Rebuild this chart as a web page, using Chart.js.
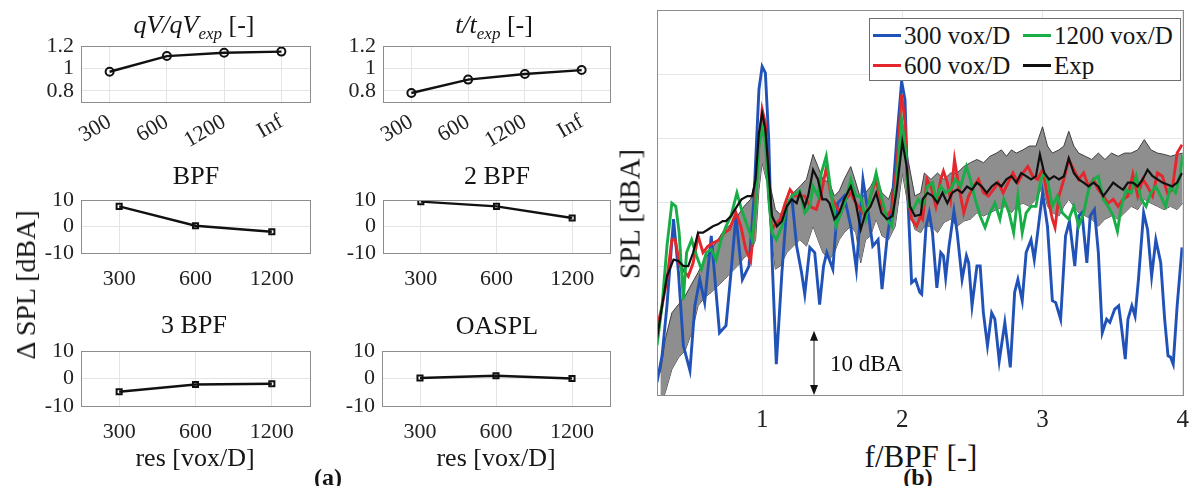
<!DOCTYPE html>
<html>
<head>
<meta charset="utf-8">
<script src="https://cdn.jsdelivr.net/npm/chart.js@4.4.1/dist/chart.umd.min.js"></script>
<style>
  body { margin: 0; background: #fff; width: 1199px; height: 486px; position: relative; overflow: hidden;
         font-family: "Liberation Serif", "Times New Roman", serif; color: #151515; }
  canvas { position: absolute; }
  .lbl { position: absolute; white-space: nowrap; line-height: 1; transform: translate(-50%, -50%); }
  .rot { transform: translate(-50%, -50%) rotate(-90deg); }
  .sub { font-size: 17px; position: relative; top: 6px; }
  #legend { position: absolute; left: 869px; top: 18px; width: 310px; height: 61px; border: 1px solid #6f6f6f; background: #fff; }
  .item { position: absolute; font-size: 25px; line-height: 1; white-space: nowrap; }
  .swatch { position: absolute; height: 2.5px; width: 28px; }
</style>
</head>
<body>
<canvas id="cQv"></canvas>
<canvas id="cT"></canvas>
<canvas id="cBpf1"></canvas>
<canvas id="cBpf2"></canvas>
<canvas id="cBpf3"></canvas>
<canvas id="cOaspl"></canvas>
<canvas id="cSpec"></canvas>

<div class="lbl" style="left:194px;top:25px;font-size:26px"><i>qV/qV</i><i class="sub">exp</i> [-]</div>
<div class="lbl" style="left:494px;top:25px;font-size:26px"><i>t/t</i><i class="sub">exp</i> [-]</div>
<div class="lbl" style="left:196px;top:176px;font-size:26px">BPF</div>
<div class="lbl" style="left:497px;top:176px;font-size:26px">2 BPF</div>
<div class="lbl" style="left:194px;top:325px;font-size:26px">3 BPF</div>
<div class="lbl" style="left:497px;top:326px;font-size:26px">OASPL</div>
<div class="lbl" style="left:195px;top:458px;font-size:26px">res [vox/D]</div>
<div class="lbl" style="left:496px;top:458px;font-size:26px">res [vox/D]</div>
<div class="lbl rot" style="left:26px;top:285px;font-size:28px">Δ SPL [dBA]</div>
<div class="lbl" style="left:328px;top:477px;font-size:24px;font-weight:bold">(a)</div>
<div class="lbl rot" style="left:630px;top:214px;font-size:29px">SPL [dBA]</div>
<div class="lbl" style="left:921px;top:456px;font-size:31px">f/BPF [-]</div>
<div class="lbl" style="left:918px;top:477px;font-size:24px;font-weight:bold">(b)</div>
<div id="legend"></div>

<script>
// ---- data: panel (a) ----
const resCats4 = ['300', '600', '1200', 'Inf'];
const resCats3 = ['300', '600', '1200'];
const qvRatio = [0.97, 1.11, 1.14, 1.15];
const tRatio = [0.78, 0.90, 0.95, 0.985];
const dSplBpf1 = [7.6, 0.3, -2.0];
const dSplBpf2 = [9.4, 7.6, 3.2];
const dSplBpf3 = [-4.8, -2.2, -1.9];
const dSplOaspl = [0.2, 1.0, 0.0];
const ratioTicks = [0.8, 1, 1.2];
const deltaTicks = [-10, 0, 10];

// ---- data: panel (b), [f/BPF, SPL] ----
const freqTicks = [1, 2, 3, 4];
const splGrid = [0, 10, 20, 30, 40, 50, 60];

const spec300 = [
  [0.25,2.0],[0.286,6.1],[0.321,13.9],[0.368,27.4],[0.403,19.1],[0.438,7.7],[0.485,3.8],[0.52,13.9],[0.555,18.0],[0.59,14.4],
  [0.637,24.8],[0.696,9.7],[0.742,10.8],[0.778,19.1],[0.813,27.9],[0.859,18.0],[0.906,20.1],[0.941,30.5],[0.977,47.6],[1.0,51.2],
  [1.023,50.2],[1.047,39.8],[1.07,21.7],[1.101,4.8],[1.141,19.1],[1.176,29.4],[1.211,31.0],[1.246,23.2],[1.281,19.1],[1.304,15.7],
  [1.34,23.0],[1.375,22.2],[1.41,14.1],[1.438,20.1],[1.461,22.2],[1.504,19.6],[1.539,29.9],[1.585,31.0],[1.632,26.3],[1.672,19.6],
  [1.719,33.6],[1.756,28.4],[1.789,23.2],[1.827,24.2],[1.855,16.5],[1.89,24.2],[1.925,29.4],[1.96,39.8],[1.995,48.9],[2.019,46.0],
  [2.042,29.4],[2.066,17.5],[2.094,18.0],[2.124,16.0],
  [2.138,15.7],[2.169,26.3],[2.192,28.4],[2.215,25.3],[2.246,16.7],[2.274,22.2],[2.293,21.7],[2.309,18.3],[2.333,23.2],[2.368,28.7],
  [2.391,25.3],[2.426,18.0],[2.457,21.7],[2.473,20.6],[2.497,13.9],[2.532,20.1],[2.555,20.1],[2.578,12.8],[2.607,7.7],[2.637,12.8],
  [2.66,11.8],[2.691,5.3],[2.731,11.3],[2.77,4.3],[2.801,16.0],[2.824,18.0],[2.855,14.7],[2.883,22.2],[2.918,24.2],[2.941,21.1],
  [2.965,25.3],[3.0,31.5],[3.035,26.3],[3.07,14.7],[3.094,14.4],[3.129,11.8],[3.164,24.8],[3.192,27.1],[3.23,20.1],[3.258,27.9],
  [3.281,28.4],[3.316,20.6],[3.34,27.9],[3.37,28.9],[3.398,22.2],[3.426,9.7],[3.457,11.8],[3.48,11.3],[3.515,13.4],[3.543,13.9],
  [3.562,10.8],[3.59,5.6],[3.609,11.8],[3.637,13.9],[3.66,12.3],[3.684,18.0],[3.721,28.4],[3.749,25.8],[3.778,18.5],[3.808,24.2],
  [3.843,20.6],[3.871,11.8],[3.895,6.1],[3.913,5.9],[3.932,4.8],[3.96,13.9],[3.995,23.0]
];

const spec600 = [
  [0.25,10.3],[0.286,13.9],[0.321,18.0],[0.356,24.2],[0.379,24.2],[0.414,20.1],[0.45,19.1],[0.473,18.5],[0.508,20.6],[0.543,24.8],
  [0.578,22.2],[0.614,23.2],[0.649,23.7],[0.696,24.2],[0.731,25.3],[0.766,25.8],[0.813,28.4],[0.848,26.3],[0.883,22.7],[0.918,20.9],
  [0.941,26.3],[0.97,37.2],[1.0,44.5],[1.023,42.4],[1.047,32.0],[1.07,25.8],[1.094,26.6],[1.129,27.4],[1.164,29.9],[1.199,32.0],
  [1.234,31.0],[1.269,31.0],[1.304,31.0],[1.34,29.4],[1.386,28.9],[1.422,31.5],[1.457,35.4],[1.492,31.0],[1.527,29.4],[1.562,28.4],
  [1.597,30.5],[1.632,31.5],[1.668,29.9],[1.703,28.9],[1.738,27.9],[1.773,31.0],[1.813,33.6],[1.855,29.4],[1.89,27.9],[1.925,28.9],
  [1.96,35.6],[1.995,46.8],[2.019,42.4],[2.042,30.5],[2.066,27.4],[2.101,26.3],[2.131,27.9],
  [2.145,27.4],[2.176,33.6],[2.204,32.5],[2.239,29.4],[2.274,33.6],[2.293,34.9],[2.321,33.1],[2.344,30.5],[2.372,36.7],[2.403,32.5],
  [2.438,28.4],[2.473,31.0],[2.508,32.5],[2.543,33.6],[2.579,31.5],[2.614,31.0],[2.649,32.0],[2.684,33.1],[2.719,31.5],[2.754,33.1],
  [2.789,34.6],[2.824,33.1],[2.86,34.6],[2.895,35.6],[2.93,34.1],[2.965,33.6],[3.0,35.1],[3.035,31.0],[3.07,27.4],[3.089,26.1],
  [3.117,31.0],[3.152,33.6],[3.187,36.7],[3.223,35.1],[3.258,33.6],[3.293,34.6],[3.328,32.5],[3.363,33.6],[3.398,32.0],[3.433,31.0],
  [3.468,29.9],[3.504,30.5],[3.539,29.4],[3.574,30.5],[3.609,31.0],[3.644,34.4],[3.679,31.0],[3.714,33.6],[3.749,32.5],[3.785,31.0],
  [3.82,34.6],[3.855,34.1],[3.89,31.5],[3.925,32.0],[3.96,37.7],[3.995,39.0]
];

const spec1200 = [
  [0.25,7.7],[0.286,13.9],[0.321,23.2],[0.356,29.9],[0.384,29.4],[0.408,25.3],[0.438,14.9],[0.461,22.2],[0.497,24.2],[0.532,21.7],
  [0.567,19.6],[0.602,22.2],[0.637,22.7],[0.672,21.1],[0.707,24.2],[0.742,26.3],[0.778,27.9],[0.82,31.5],[0.853,28.9],[0.895,26.3],
  [0.93,24.2],[0.953,29.4],[0.977,38.8],[1.0,41.5],[1.023,39.5],[1.047,30.5],[1.07,25.3],[1.101,24.2],[1.141,26.3],[1.176,29.4],
  [1.211,31.0],[1.246,31.5],[1.269,31.8],[1.304,28.4],[1.34,29.4],[1.363,32.5],[1.398,31.0],[1.422,34.6],[1.457,37.2],[1.492,31.5],
  [1.527,26.3],[1.562,28.4],[1.597,30.5],[1.632,33.6],[1.668,31.0],[1.703,31.0],[1.738,27.4],[1.773,31.0],[1.813,34.6],[1.85,31.0],
  [1.89,27.4],[1.925,26.3],[1.96,33.6],[1.995,42.9],[2.023,38.2],[2.047,29.4],[2.077,28.9],[2.113,30.5],
  [2.145,29.4],[2.18,32.5],[2.216,33.1],[2.239,30.5],[2.274,32.5],[2.309,31.5],[2.344,32.0],[2.379,33.6],[2.415,32.5],[2.457,35.6],
  [2.485,33.6],[2.52,30.5],[2.555,27.9],[2.59,26.1],[2.625,28.4],[2.66,29.9],[2.696,27.4],[2.724,30.5],[2.761,28.4],[2.794,25.3],
  [2.824,31.0],[2.855,25.3],[2.883,28.4],[2.918,29.4],[2.953,29.4],[2.988,33.6],[3.012,34.6],[3.035,33.6],[3.07,29.4],[3.105,31.0],
  [3.141,28.4],[3.187,27.4],[3.223,29.4],[3.258,26.3],[3.293,28.4],[3.328,32.0],[3.363,33.6],[3.398,34.1],[3.433,30.5],[3.468,29.4],
  [3.504,27.9],[3.534,25.5],[3.562,29.4],[3.597,32.0],[3.632,31.5],[3.668,34.1],[3.703,30.5],[3.738,29.4],[3.773,31.5],[3.808,32.5],
  [3.843,31.0],[3.878,29.4],[3.913,32.5],[3.949,31.5],[3.984,34.6],[4.0,37.5]
];

const specExp = [
  [0.25,8.7],[0.286,13.9],[0.321,18.5],[0.368,21.1],[0.403,20.9],[0.438,20.1],[0.473,20.1],[0.508,22.2],[0.543,25.3],[0.578,25.3],
  [0.614,25.8],[0.649,26.3],[0.684,26.6],[0.719,27.1],[0.742,27.1],[0.778,27.9],[0.82,29.4],[0.853,30.5],[0.895,31.0],[0.93,31.0],
  [0.953,33.6],[0.977,40.8],[1.0,43.9],[1.023,41.4],[1.047,34.6],[1.07,27.9],[1.105,26.3],[1.141,27.1],[1.176,29.4],[1.211,30.5],
  [1.246,29.9],[1.269,31.5],[1.304,29.4],[1.328,31.0],[1.363,35.1],[1.398,33.6],[1.429,30.5],[1.457,30.5],[1.48,29.9],[1.515,27.4],
  [1.55,28.4],[1.585,30.5],[1.632,32.5],[1.668,29.9],[1.703,25.8],[1.738,28.4],[1.773,29.4],[1.813,31.5],[1.85,28.4],[1.89,27.4],
  [1.93,27.9],[1.96,32.0],[2.0,39.5],[2.031,35.6],[2.054,29.4],[2.089,27.9],[2.131,28.1],
  [2.145,30.5],[2.18,31.5],[2.216,31.0],[2.251,29.9],[2.286,31.5],[2.321,29.9],[2.356,31.5],[2.391,32.0],[2.426,31.5],[2.461,32.5],
  [2.497,32.0],[2.532,33.1],[2.567,32.5],[2.602,31.5],[2.637,32.5],[2.672,33.1],[2.707,32.5],[2.742,33.6],[2.778,34.1],[2.813,33.1],
  [2.848,34.6],[2.883,34.1],[2.918,33.6],[2.953,34.1],[2.981,37.5],[3.012,34.6],[3.047,33.6],[3.082,34.1],[3.117,33.6],[3.152,34.1],
  [3.187,36.9],[3.223,34.6],[3.258,33.6],[3.293,33.1],[3.328,32.5],[3.363,33.1],[3.398,32.5],[3.433,31.0],[3.468,32.0],[3.504,33.1],
  [3.539,32.5],[3.574,32.0],[3.609,33.1],[3.644,33.1],[3.679,32.5],[3.714,33.6],[3.749,35.1],[3.785,34.1],[3.82,33.6],[3.855,33.1],
  [3.89,32.8],[3.925,32.5],[3.96,33.1],[3.995,34.6]
];

// experimental uncertainty band: [f/BPF, lower, upper]
const specBand = [
  [0.274,-2,3.5],[0.309,0.4,8.7],[0.356,4.0,12.8],[0.403,5.8,14.1],[0.45,6.9,15.4],[0.497,9.7,17.3],[0.543,13.9,19.1],[0.59,15.2,21.1],[0.637,16.0,22.7],[0.684,17.0,24.2],
  [0.731,18.0,25.8],[0.778,19.1,26.6],[0.824,20.1,27.9],[0.871,21.4,29.4],[0.918,22.2,30.5],[0.953,24.2,33.6],[0.977,32.0,39.8],[1.0,36.2,43.7],[1.035,33.1,39.8],[1.059,26.3,32.5],
  [1.094,19.6,28.9],[1.129,20.1,28.1],[1.176,22.2,29.9],[1.222,23.2,31.5],[1.269,24.2,32.5],[1.316,23.2,33.6],[1.363,26.3,37.5],[1.398,24.2,35.6],[1.433,22.2,33.6],[1.48,21.1,33.1],
  [1.515,22.2,31.0],[1.55,24.2,31.8],[1.585,25.3,33.6],[1.632,26.3,35.6],[1.668,25.3,33.1],[1.703,20.6,30.5],[1.738,24.2,31.5],[1.773,24.8,32.5],[1.813,27.4,34.1],[1.855,24.8,31.5],
  [1.902,24.2,30.5],[1.949,26.3,33.6],[2.0,34.6,42.4],[2.042,29.4,36.5],[2.089,25.8,31.0],[2.131,25.3,31.5],
  [2.157,26.3,34.6],[2.204,26.3,33.6],[2.251,25.3,34.6],[2.297,26.9,33.6],[2.344,27.4,34.6],[2.391,26.3,34.6],[2.438,27.1,35.6],[2.485,27.4,36.2],[2.532,28.4,36.7],[2.579,27.9,36.2],
  [2.625,28.4,37.2],[2.672,28.9,37.7],[2.707,29.2,38.2],[2.742,29.4,37.2],[2.778,28.4,38.2],[2.813,29.4,37.7],[2.86,29.9,38.2],[2.906,29.4,38.8],[2.953,30.5,38.8],[3.0,32.5,41.8],
  [3.035,29.4,38.8],[3.07,28.4,37.7],[3.117,27.9,38.2],[3.152,29.4,38.8],[3.187,30.5,41.1],[3.223,29.4,38.8],[3.258,28.4,37.7],[3.305,27.9,37.2],[3.351,27.4,36.7],[3.398,26.3,37.7],
  [3.445,27.4,36.7],[3.492,27.9,37.7],[3.539,27.4,37.2],[3.586,28.4,37.7],[3.632,29.4,37.7],[3.679,28.9,38.2],[3.726,30.5,39.8],[3.773,29.9,38.2],[3.82,29.4,37.7],[3.867,28.9,37.5],
  [3.913,29.4,37.2],[3.96,28.9,37.5],[4.0,29.9,37.7]
];

// 10 dBA scale arrow
const arrowFreq = 1.37;
const arrowSpan = [0, 10];
const arrowText = '10 dBA';

// ---- drawing ----
const FONT = '"Liberation Serif", "Times New Roman", serif';

function placeCanvas(id, left, top, w, h) {
  const c = document.getElementById(id);
  c.width = w; c.height = h;
  c.style.left = left + 'px'; c.style.top = top + 'px';
  return c;
}

// MATLAB-style box around the axes
const frame = {
  id: 'frame',
  afterDatasetsDraw(chart, args, opts) {
    const a = chart.chartArea, ctx = chart.ctx;
    ctx.save();
    ctx.strokeStyle = opts.color || '#8a8a8a';
    ctx.lineWidth = 1;
    ctx.strokeRect(Math.round(a.left) + 0.5, Math.round(a.top) + 0.5,
                   Math.round(a.right - a.left), Math.round(a.bottom - a.top));
    ctx.restore();
  }
};

function smallChart(id, box, cats, vals, yTicks, yRange, marker, rotated) {
  const yW = 62, padT = 14, padR = 4, xH = rotated ? 52 : 42;
  const left = box.l - yW, top = box.t - padT;
  const cv = placeCanvas(id, left, top, box.r + padR - left, box.b - top + xH);
  return new Chart(cv, {
    type: 'line',
    data: {
      labels: cats,
      datasets: [{
        data: vals, borderColor: '#111', borderWidth: 2.4, tension: 0,
        pointStyle: marker, pointRadius: marker === 'circle' ? 4 : 3.6,
        pointBorderWidth: 2, pointBorderColor: '#111', pointBackgroundColor: 'rgba(255,255,255,0)'
      }]
    },
    options: {
      responsive: false, animation: false, events: [],
      layout: { padding: { top: padT, right: padR, left: 0, bottom: 0 } },
      plugins: { legend: { display: false }, tooltip: { enabled: false }, frame: { color: '#8d8d8d' } },
      scales: {
        x: {
          offset: true,
          grid: { offset: false, color: '#e4e4e4', drawTicks: false },
          border: { display: false },
          ticks: { color: '#222', font: { family: FONT, size: 22 }, padding: rotated ? 7 : 13,
                   minRotation: rotated ? 30 : 0, maxRotation: rotated ? 30 : 0, autoSkip: false },
          afterFit: s => { s.height = xH; }
        },
        y: {
          min: yRange[0], max: yRange[1],
          grid: { color: '#e4e4e4', drawTicks: false },
          border: { display: false },
          afterBuildTicks: s => { s.ticks = yTicks.map(v => ({ value: v })); },
          ticks: { color: '#222', font: { family: FONT, size: 22, lineHeight: 1 }, padding: 7, autoSkip: false,
                   callback: v => String(v) },
          afterFit: s => { s.width = yW; }
        }
      }
    },
    plugins: [frame]
  });
}

smallChart('cQv',    { l: 81,  t: 42,  r: 312, b: 102 }, resCats4, qvRatio,   ratioTicks, [0.7, 1.2], 'circle', true);
smallChart('cT',     { l: 383, t: 42,  r: 612, b: 102 }, resCats4, tRatio,    ratioTicks, [0.7, 1.2], 'circle', true);
smallChart('cBpf1',  { l: 81,  t: 196, r: 312, b: 253 }, resCats3, dSplBpf1,  deltaTicks, [-10, 10], 'rect', false);
smallChart('cBpf2',  { l: 383, t: 196, r: 612, b: 253 }, resCats3, dSplBpf2,  deltaTicks, [-10, 10], 'rect', false);
smallChart('cBpf3',  { l: 81,  t: 347, r: 312, b: 406 }, resCats3, dSplBpf3,  deltaTicks, [-10, 10], 'rect', false);
smallChart('cOaspl', { l: 382, t: 347, r: 612, b: 406 }, resCats3, dSplOaspl, deltaTicks, [-10, 10], 'rect', false);

// spectrum panel
const specLines = [
  { name: 'Exp',        pts: specExp,  color: '#101010', width: 2.2 },
  { name: '1200 vox/D', pts: spec1200, color: '#18ad46', width: 2.9 },
  { name: '600 vox/D',  pts: spec600,  color: '#e5262c', width: 2.9 },
  { name: '300 vox/D',  pts: spec300,  color: '#2152b7', width: 2.9 }
];

const dbArrow = {
  id: 'dbArrow',
  afterDatasetsDraw(chart) {
    const { ctx, scales: { x, y } } = chart;
    const px = x.getPixelForValue(arrowFreq);
    const y0 = y.getPixelForValue(arrowSpan[0]), y1 = y.getPixelForValue(arrowSpan[1]);
    ctx.save();
    ctx.strokeStyle = '#5a5a5a'; ctx.lineWidth = 1.3;
    ctx.beginPath(); ctx.moveTo(px, y1 + 8); ctx.lineTo(px, y0 - 8); ctx.stroke();
    ctx.fillStyle = '#111';
    ctx.beginPath(); ctx.moveTo(px, y1); ctx.lineTo(px - 4, y1 + 10); ctx.lineTo(px + 4, y1 + 10); ctx.closePath(); ctx.fill();
    ctx.beginPath(); ctx.moveTo(px, y0); ctx.lineTo(px - 4, y0 - 10); ctx.lineTo(px + 4, y0 - 10); ctx.closePath(); ctx.fill();
    ctx.font = '23px ' + FONT;
    ctx.textBaseline = 'middle'; ctx.textAlign = 'left';
    ctx.fillText(arrowText, px + 16, (y0 + y1) / 2 + 2);
    ctx.restore();
  }
};

(function () {
  const box = { l: 657, t: 10, r: 1189, b: 395 };
  const yW = 17, padT = 10, padR = 10, xH = 42;
  const left = box.l - yW, top = box.t - padT;
  const cv = placeCanvas('cSpec', left, top, box.r + padR - left, box.b - top + xH);
  const datasets = specLines.map(s => ({
    label: s.name,
    data: s.pts.map(p => ({ x: p[0], y: p[1] })),
    borderColor: s.color, borderWidth: s.width, pointRadius: 0, tension: 0, fill: false
  }));
  datasets.push({
    label: 'Exp band upper', data: specBand.map(p => ({ x: p[0], y: p[2] })),
    borderColor: '#404040', borderWidth: 1, pointRadius: 0, tension: 0,
    fill: '+1', backgroundColor: '#8e8e8e'
  });
  datasets.push({
    label: 'Exp band lower', data: specBand.map(p => ({ x: p[0], y: p[1] })),
    borderColor: '#404040', borderWidth: 1, pointRadius: 0, tension: 0, fill: false
  });
  new Chart(cv, {
    type: 'line',
    data: { datasets },
    options: {
      responsive: false, animation: false, events: [],
      layout: { padding: { top: padT, right: padR, left: 0, bottom: 0 } },
      plugins: { legend: { display: false }, tooltip: { enabled: false }, frame: { color: '#8d8d8d' } },
      scales: {
        x: {
          type: 'linear', min: 0.25, max: 4,
          grid: { color: '#e6e6e6', drawTicks: false },
          border: { display: false },
          afterBuildTicks: s => { s.ticks = freqTicks.map(v => ({ value: v })); },
          ticks: { color: '#222', font: { family: FONT, size: 25 }, padding: 10, maxRotation: 0 },
          afterFit: s => { s.height = xH; }
        },
        y: {
          min: 0, max: 60,
          grid: { color: '#e6e6e6', drawTicks: false },
          border: { display: false },
          afterBuildTicks: s => { s.ticks = splGrid.map(v => ({ value: v })); },
          ticks: { display: false },
          afterFit: s => { s.width = yW; }
        }
      }
    },
    plugins: [frame, dbArrow]
  });

  // legend, two columns like the original
  const legendSlots = { '300 vox/D': [0, 0], '1200 vox/D': [1, 0], '600 vox/D': [0, 1], 'Exp': [1, 1] };
  const colX = [3, 153], rowY = [16, 46];
  const lg = document.getElementById('legend');
  specLines.forEach(s => {
    const [c, r] = legendSlots[s.name];
    const sw = document.createElement('div');
    sw.className = 'swatch';
    sw.style.left = colX[c] + 'px'; sw.style.top = (rowY[r] - 1) + 'px'; sw.style.background = s.color;
    lg.appendChild(sw);
    const t = document.createElement('div');
    t.className = 'item'; t.textContent = s.name;
    t.style.left = (colX[c] + 31) + 'px'; t.style.top = (rowY[r] - 12.5) + 'px';
    lg.appendChild(t);
  });
})();
</script>
</body>
</html>
